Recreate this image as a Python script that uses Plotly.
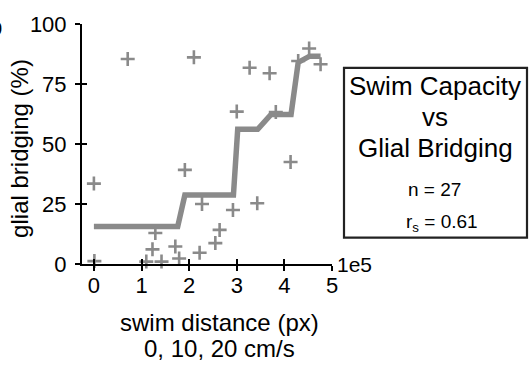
import plotly.graph_objects as go

# Per-animal measurements: swim distance (x 1e5 px) vs glial bridging (%)
swim_distance = [0.00, 0.01, 0.71, 1.10, 1.23, 1.29, 1.42, 1.71, 1.79, 1.91,
                 2.10, 2.22, 2.27, 2.55, 2.64, 2.92, 3.00, 3.27, 3.43, 3.69,
                 3.82, 4.13, 4.29, 4.52, 4.76]
glial_bridging = [33.5, 1.2, 85.4, 1.0, 6.1, 12.9, 1.0, 7.3, 2.3, 39.2,
                  86.1, 4.7, 25.0, 8.7, 14.2, 22.5, 63.5, 81.8, 25.3, 79.5,
                  63.3, 42.5, 84.6, 89.8, 83.2]

# Monotone fit through the data
fit_x = [0.00, 1.76, 1.91, 2.93, 3.02, 3.44, 3.72, 4.14, 4.29, 4.53, 4.76]
fit_y = [15.6, 15.6, 28.7, 28.7, 56.1, 56.1, 62.3, 62.3, 84.0, 86.6, 86.6]

x_ticks = [0, 1, 2, 3, 4, 5]
y_ticks = [0, 25, 50, 75, 100]

GREY = "#8a8a8a"
FONT = "Liberation Sans, Arial, sans-serif"

W, H = 531, 374
ML, MR, MT, MB = 82, 199, 18, 110


def px(x):
    return (x - ML) / (W - ML - MR)


def py(y):
    return (H - MB - y) / (H - MT - MB)


fig = go.Figure()
fig.add_trace(go.Scatter(
    x=fit_x, y=fit_y, mode="lines",
    line=dict(color=GREY, width=5.5),
    hoverinfo="skip", showlegend=False, cliponaxis=False,
))
fig.add_trace(go.Scatter(
    x=swim_distance, y=glial_bridging, mode="markers",
    marker=dict(symbol="cross-thin", size=10, line=dict(color=GREY, width=2.6)),
    showlegend=False, cliponaxis=False,
))
# second axis pair only carries the inward half of the tick marks
fig.add_trace(go.Scatter(x=[0], y=[0], xaxis="x2", yaxis="y2", mode="markers",
                         marker=dict(opacity=0), hoverinfo="skip", showlegend=False))

axis_common = dict(showgrid=False, zeroline=False, linecolor="black", linewidth=2,
                   tickcolor="black", tickwidth=2, ticklen=5,
                   tickfont=dict(family=FONT, size=22, color="black"))
axis_plain = {k: v for k, v in axis_common.items() if k != "tickfont"}

fig.update_layout(
    width=W, height=H,
    margin=dict(l=ML, r=MR, t=MT, b=MB),
    paper_bgcolor="white", plot_bgcolor="white",
    xaxis=dict(range=[-0.25, 5], tickvals=x_ticks, ticks="outside", showline=True,
               anchor="y", ticklabelstandoff=-4, **axis_common),
    yaxis=dict(range=[0, 100], tickvals=y_ticks, ticks="outside", showline=True,
               anchor="x", ticklabelstandoff=4, **axis_common),
    xaxis2=dict(range=[-0.25, 5], tickvals=x_ticks, ticks="inside", showline=False,
                showticklabels=False, overlaying="x", anchor="y2", side="bottom",
                **axis_plain),
    yaxis2=dict(range=[0, 100], tickvals=y_ticks, ticks="inside", showline=False,
                showticklabels=False, overlaying="y", anchor="x2", side="left",
                **axis_plain),
)

f = lambda s: dict(family=FONT, size=s, color="black")
annotations = [
    dict(text="glial bridging (%)", x=px(20), y=py(146), textangle=-90, font=f(24)),
    dict(text="swim distance (px)", x=px(219), y=py(324), font=f(24)),
    dict(text="0, 10, 20 cm/s", x=px(219), y=py(351), font=f(24)),
    dict(text="1e5", x=px(335), y=py(265), xanchor="left", font=f(21)),
    dict(text="b", x=px(4), y=py(21), xanchor="right", font=f(24)),
    dict(text="Swim Capacity", x=px(435), y=py(82), font=f(26)),
    dict(text="vs", x=px(435), y=py(113), font=f(26)),
    dict(text="Glial Bridging", x=px(435), y=py(145), font=f(26)),
    dict(text="n = 27", x=px(434), y=py(188), font=f(19)),
    dict(text="r<sub>s</sub> = 0.61", x=px(442), y=py(222), font=f(19)),
]
for a in annotations:
    a.setdefault("xanchor", "center")
    fig.add_annotation(xref="paper", yref="paper", showarrow=False, yanchor="middle", **a)

fig.add_shape(type="rect", xref="paper", yref="paper",
              x0=px(344), x1=px(527), y0=py(63), y1=py(237),
              line=dict(color="#222222", width=2.2), fillcolor="rgba(0,0,0,0)")

fig.write_html("out.html")
